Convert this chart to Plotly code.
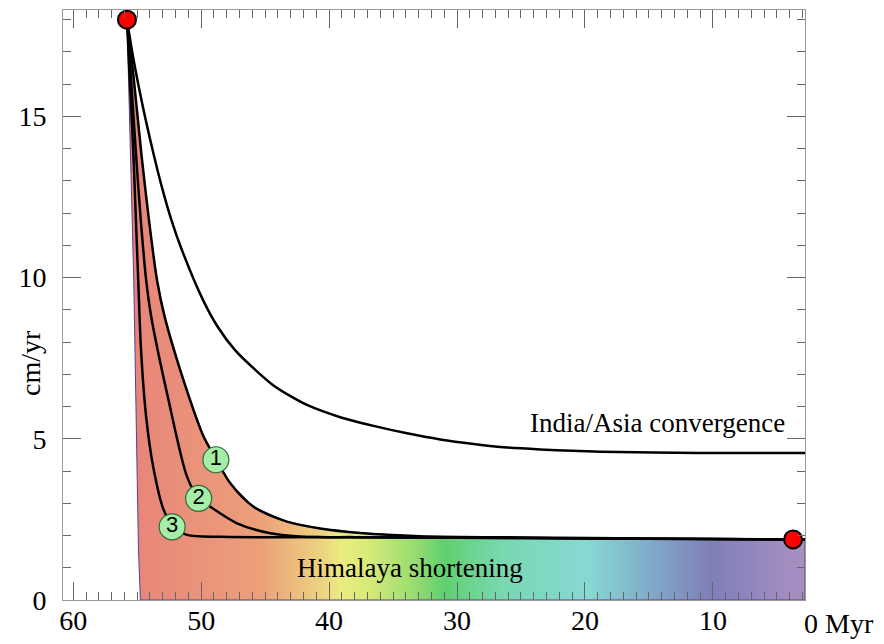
import plotly.graph_objects as go

# India/Asia convergence rate (Myr, cm/yr)
conv_x = [55.8, 55.37, 54.88, 54.33, 53.73, 53.08, 52.37, 51.5, 49.85, 48.75, 47.35, 45.75, 44.4, 43.05, 41.73,
          39.13, 36.52, 33.91, 31.31, 28.71, 26.1, 23.5, 18.8, 11.0, 2.8]
conv_y = [18.0, 16.95, 15.92, 14.88, 13.85, 12.82, 11.84, 10.85, 9.3, 8.5, 7.75, 7.13, 6.67, 6.33, 6.05,
          5.67, 5.4, 5.17, 4.98, 4.84, 4.73, 4.67, 4.6, 4.56, 4.56]

# Himalaya shortening scenarios 1, 2, 3
c1_x = [55.8, 55.3, 54.68, 54.08, 53.45, 52.85, 51.3, 49.8, 48.84, 47.72, 45.9, 43.29, 40.69, 37.56, 32.9, 25.0, 15.0, 3.7, 2.8]
c1_y = [18.0, 16.29, 13.86, 11.78, 9.92, 8.78, 6.72, 5.06, 4.37, 3.62, 2.89, 2.43, 2.22, 2.08, 1.98, 1.94, 1.91, 1.88, 1.88]
c2_x = [55.8, 55.5, 55.1, 54.72, 54.3, 53.9, 52.55, 51.1, 50.2, 49.28, 47.2, 44.59, 42.02, 38.0, 30.0, 20.0, 10.0, 3.7, 2.8]
c2_y = [18.0, 16.29, 13.86, 11.78, 9.92, 8.78, 6.2, 3.82, 3.16, 2.89, 2.38, 2.07, 1.96, 1.95, 1.93, 1.91, 1.89, 1.88, 1.88]
c3_x = [55.8, 55.6, 55.3, 55.1, 54.92, 54.7, 54.3, 53.75, 52.93, 52.15, 51.1, 48.5, 40.0, 30.0, 20.0, 10.0, 3.7, 2.8]
c3_y = [18.0, 16.29, 13.86, 11.78, 9.92, 7.75, 5.68, 4.13, 2.79, 2.27, 2.02, 1.96, 1.95, 1.93, 1.91, 1.89, 1.88, 1.88]

# left edge of the shaded area (bottom to top)
edge_x = [54.75, 54.9, 55.27, 55.4, 55.53, 55.66]
edge_y = [0.0, 1.55, 9.92, 11.78, 13.86, 16.29]

# numbered labels and red end points
lab_x = [48.85, 50.2, 52.27]
lab_y = [4.35, 3.15, 2.27]
lab_text = ['1', '2', '3']
end_x = [55.8, 3.73]
end_y = [18.0, 1.88]

# colour ramp along the age axis
grad_x = [2.8, 6.1, 10.1, 14.6, 19.7, 26.5, 31.0, 33.3, 36.8, 39.1, 40.2, 45.3, 54.5, 55.8]
grad_c = ['#a890c0', '#9888c0', '#7f7fb8', '#80a8c8', '#88d8d4', '#78d8b0', '#60d070',
          '#98dc70', '#d6ea78', '#ecec80', '#ecd880', '#eca07a', '#e8877a', '#e8807a']

x0, x1 = 60.8, 2.8
serif = 'Liberation Serif'

fig = go.Figure()

# shaded area under curve 1
poly_x = edge_x + c1_x + [x1, edge_x[0]]
poly_y = edge_y + c1_y + [0.0, 0.0]
g0, g1 = min(grad_x), max(grad_x)
cscale = [[(gx - g0) / (g1 - g0), c] for gx, c in zip(grad_x, grad_c)]
fig.add_trace(go.Scatter(x=poly_x, y=poly_y, mode='lines', fill='toself',
                         line=dict(color='#5b3f8c', width=1),
                         fillgradient=dict(type='horizontal', colorscale=cscale, start=g0, stop=g1),
                         showlegend=False, hoverinfo='skip'))

for cx, cy in [(conv_x, conv_y), (c1_x, c1_y), (c2_x, c2_y), (c3_x, c3_y)]:
    fig.add_trace(go.Scatter(x=cx, y=cy, mode='lines',
                             line=dict(color='black', width=2.5, shape='spline', smoothing=0.8),
                             showlegend=False))

fig.add_trace(go.Scatter(x=lab_x, y=lab_y, mode='markers+text', text=lab_text, textposition='middle center',
                         marker=dict(size=26, color='#a4eea8', line=dict(color='#2f6b3a', width=1.2)),
                         textfont=dict(family='Liberation Sans', size=22, color='black'),
                         showlegend=False, cliponaxis=False))

fig.add_trace(go.Scatter(x=end_x, y=end_y, mode='markers',
                         marker=dict(size=18, color='#ff0000', line=dict(color='black', width=2)),
                         showlegend=False, cliponaxis=False))

fig.add_annotation(x=14.35, y=5.5, text='India/Asia convergence', showarrow=False,
                   font=dict(family=serif, size=27, color='black'))
fig.add_annotation(x=33.7, y=1.0, text='Himalaya shortening', showarrow=False,
                   font=dict(family=serif, size=27, color='black'))
fig.add_annotation(x=1, xref='paper', xanchor='left', xshift=-3, y=0, yref='paper', yanchor='top', yshift=-6,
                   text='0 Myr', showarrow=False, font=dict(family=serif, size=28, color='black'))
fig.add_annotation(x=0, xref='paper', xanchor='center', xshift=-33, y=7.35, text='cm/yr', textangle=-90,
                   showarrow=False, font=dict(family=serif, size=28, color='black'))

axis_style = dict(showline=True, linecolor='#999999', linewidth=1, mirror='ticks', ticks='inside',
                  tickcolor='#666666', tickwidth=1, ticklen=18, showgrid=False, zeroline=False,
                  automargin=False, tickfont=dict(family=serif, size=28, color='black'))
fig.update_xaxes(range=[x0, x1], tickvals=[60, 50, 40, 30, 20, 10], ticklabelstandoff=-5,
                 minor=dict(dtick=1, ticks='inside', ticklen=8, tickcolor='#666666'), **axis_style)
fig.update_yaxes(range=[0, 18.3], tickvals=[0, 5, 10, 15], ticklabelstandoff=10,
                 minor=dict(dtick=1, ticks='inside', ticklen=8, tickcolor='#666666'), **axis_style)

# the page body adds an 8px offset at top/left, so the figure is drawn 8px smaller
fig.update_layout(width=876, height=636, margin=dict(l=55, r=79, t=2, b=44),
                  plot_bgcolor='white', paper_bgcolor='white')
fig.write_html("out.html")
